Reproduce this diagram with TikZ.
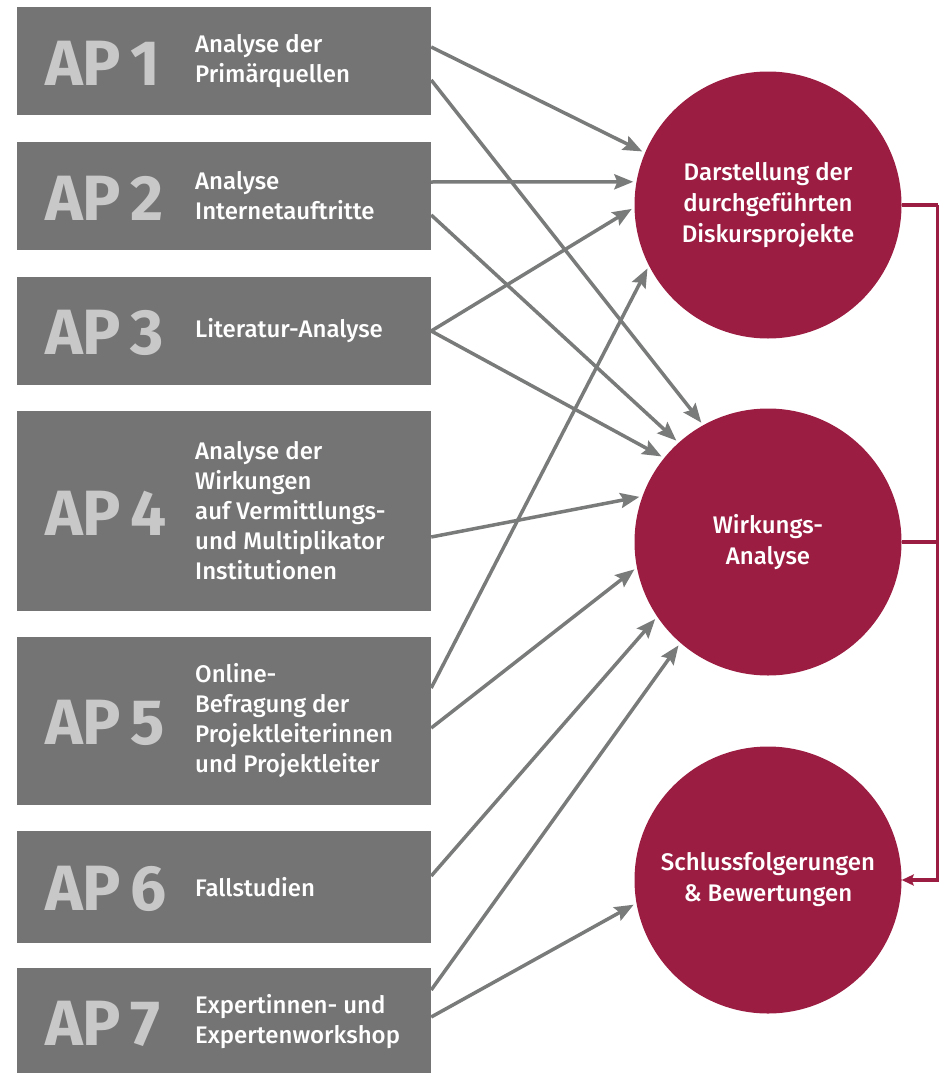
\documentclass[tikz,border=0pt]{standalone}
\usepackage{fontspec}
\setmainfont{Fira Sans}
\newfontfamily\apfont{Fira Sans Bold}
\newfontfamily\medfont{Fira Sans Medium}
\usepackage{tikz}
\usetikzlibrary{arrows.meta,positioning}
\definecolor{boxgray}{RGB}{115,116,115}
\definecolor{arrowgray}{RGB}{121,123,122}
\definecolor{numgray}{RGB}{200,200,200}
\definecolor{wine}{RGB}{155,30,66}

\begin{document}
\begin{tikzpicture}[
x=1pt, y=-1pt,
apbox/.style={draw=none, fill=boxgray, minimum width=414pt, inner sep=0pt},
apnum/.style={anchor=west, text=numgray, font=\apfont\fontsize{64}{64}\selectfont, inner sep=0pt},
aptext/.style={anchor=west, text=white, align=left, font=\medfont\fontsize{24}{30}\selectfont, inner sep=0pt},
result/.style={circle, fill=wine, minimum size=267pt, inner sep=0pt, text=white, align=center, font=\medfont\fontsize{24}{31}\selectfont},
flow/.style={draw=arrowgray, line width=3.5pt, -{Stealth[length=19pt,width=15pt,inset=3pt]}, shorten >=3pt},
link/.style={draw=wine, line width=3.2pt}
]
    % frame
    \useasboundingbox (0,0) rectangle (943,1073);
    \clip (0,0) rectangle (943,1073);

    % work packages
    \node[apbox, minimum height=108pt] (ap1) at (224,61) {};
    \node[apbox, minimum height=108pt] (ap2) at (224,196) {};
    \node[apbox, minimum height=108pt] (ap3) at (224,331) {};
    \node[apbox, minimum height=200pt] (ap4) at (224,511) {};
    \node[apbox, minimum height=168pt] (ap5) at (224,721) {};
    \node[apbox, minimum height=112pt] (ap6) at (224,887) {};
    \node[apbox, minimum height=108pt] (ap7) at (224,1022) {};

    \node[apnum] (n1) at (45,63) {AP\kern9pt1};
    \node[apnum] (n2) at (45,198) {AP\kern9pt2};
    \node[apnum] (n3) at (45,333) {AP\kern9pt3};
    \node[apnum] (n4) at (45,513) {AP\kern9pt4};
    \node[apnum] (n5) at (45,723) {AP\kern9pt5};
    \node[apnum] (n6) at (45,889) {AP\kern9pt6};
    \node[apnum] (n7) at (45,1024) {AP\kern9pt7};

    \node[aptext] (t1) at (195,61) {Analyse der\\Primärquellen};
    \node[aptext] (t2) at (195,196) {Analyse\\Internetauftritte};
    \node[aptext] (t3) at (195,331) {Literatur-Analyse};
    \node[aptext] (t4) at (195,511) {Analyse der\\Wirkungen\\auf Vermittlungs-\\und Multiplikator\\Institutionen};
    \node[aptext] (t5) at (195,721) {Online-\\Befragung der\\Projektleiterinnen\\und Projektleiter};
    \node[aptext] (t6) at (195,887) {Fallstudien};
    \node[aptext] (t7) at (195,1022) {Expertinnen- und\\Expertenworkshop};

    % results
    \node[result] (dar) at (768,205) {Darstellung der\\durchgeführten\\Diskursprojekte};
    \node[result] (wir) at (768,542) {Wirkungs-\\Analyse};
    \node[result] (sch) at (768,880) {Schlussfolgerungen\\\& Bewertungen};

    % arrows
    \draw[flow] ([yshift=14pt]ap1.east) -- (dar.157);
    \draw[flow] ([yshift=-19pt]ap1.east) -- (wir.119);
    \draw[flow] ([yshift=14pt]ap2.east) -- (dar.170);
    \draw[flow] ([yshift=-19pt]ap2.east) -- (wir.132);
    \draw[flow] (ap3.east) -- (dar.181);
    \draw[flow] (ap3.east) -- (wir.141);
    \draw[flow] ([yshift=-26pt]ap4.east) -- (wir.160);
    \draw[flow] ([yshift=33pt]ap5.east) -- (dar.207);
    \draw[flow] ([yshift=-7pt]ap5.east) -- (wir.191);
    \draw[flow] ([yshift=11pt]ap6.east) -- (wir.214);
    \draw[flow] ([yshift=32pt]ap7.east) -- (wir.229);
    \draw[flow] ([yshift=5pt]ap7.east) -- (sch.190);

    % bracket on the right
    \draw[link] (dar.east) -- ++(36,0) coordinate (rt);
    \draw[link] (wir.east) -- (wir.east -| rt);
    \draw[link, -{Stealth[length=12pt,width=11pt,inset=2pt]}] (rt) |- (sch.east);

\end{tikzpicture}
\end{document}
